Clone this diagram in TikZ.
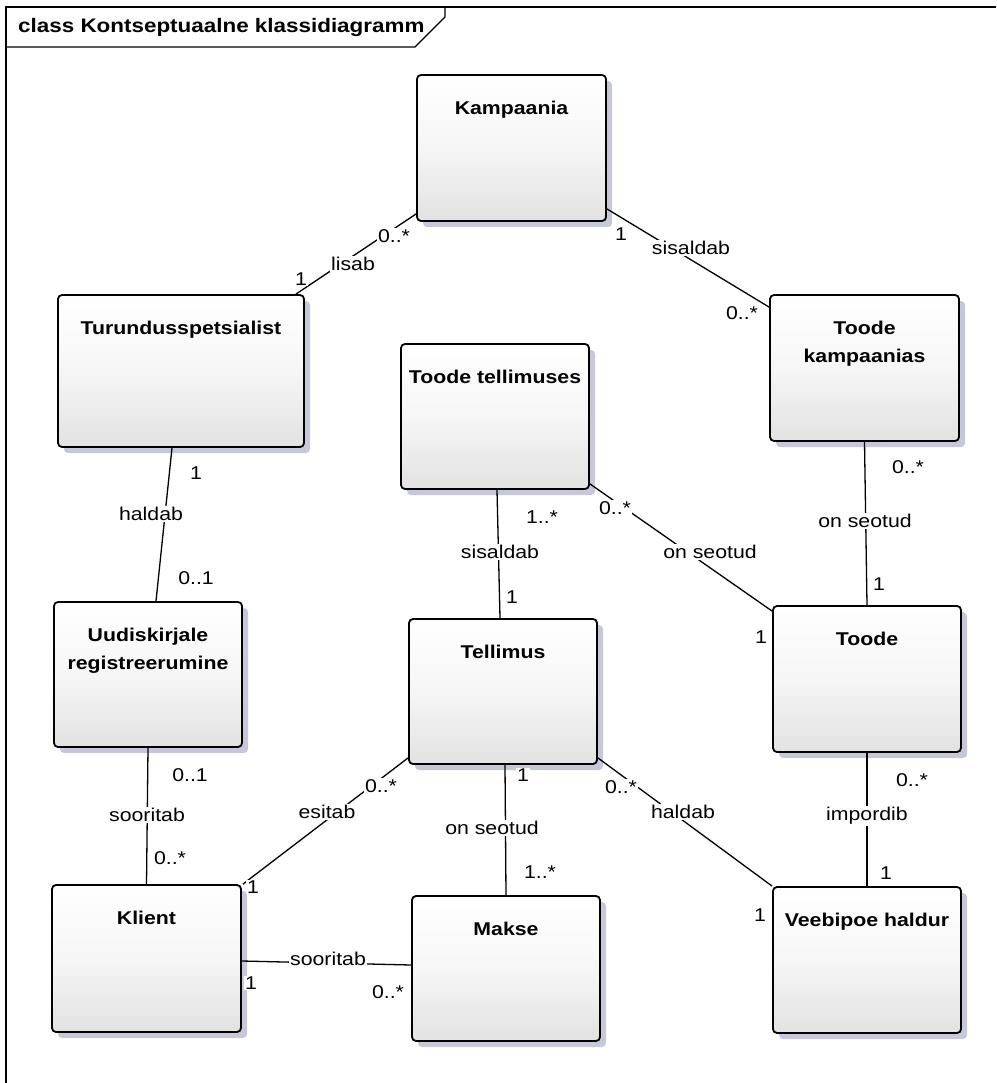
\documentclass[tikz,border=0pt]{standalone}
\usepackage{fontspec}
\setmainfont{Liberation Sans}[FakeStretch=1.15]
\usetikzlibrary{shadows}
\definecolor{shadowcol}{RGB}{196,200,218}
\definecolor{boxbottom}{RGB}{226,226,226}
\definecolor{boxmid}{RGB}{246,246,246}

\tikzset{
  classbox/.style={draw=black, line width=1.8pt, rounded corners=4pt,
    top color=white, bottom color=boxbottom, middle color=boxmid,
    drop shadow={shadow xshift=6pt, shadow yshift=-6pt, fill=shadowcol, opacity=1},
    inner sep=0pt},
  classname/.style={anchor=north, inner sep=0pt, align=center,
    font=\fontsize{18.5}{28}\selectfont\bfseries},
  assoc/.style={draw=black, line width=1.3pt},
  lbl/.style={fill=white, inner sep=1pt, font=\fontsize{18.5}{22}\selectfont},
  frameline/.style={draw=black, line width=1.2pt}
}

% one class: node name, centre x, centre y, width, height, title
\newcommand{\umlclass}[6]{%
  \node[classbox, minimum width=#4pt, minimum height=#5pt] (#1) at (#2,#3) {};
  \node[classname] (#1-name) at ([yshift=-27pt]#1.north) {#6};
}

\begin{document}
\begin{tikzpicture}[x=1pt,y=-1pt]
\useasboundingbox (0,0) rectangle (996,1083);
\fill[white] (0,0) rectangle (996,1083);

% diagram frame with its name tab
\draw[frameline] (6,1083) -- (6,7) -- (996,7);
\draw[frameline] (6,47) -- (415,47) -- (445,17) -- (445,7);
\node[anchor=west, inner sep=0pt, font=\fontsize{19.5}{22}\selectfont\bfseries]
  (frametitle) at (18,28) {class Kontseptuaalne klassidiagramm};

% classes
\umlclass{kamp}{511.5}{148}{189}{146}{Kampaania}
\umlclass{turu}{181}{371}{246}{152}{Turundusspetsialist}
\umlclass{ttel}{495}{416.5}{188}{145}{Toode tellimuses}
\umlclass{tkam}{864.5}{368}{189}{146}{Toode\\kampaanias}
\umlclass{uudi}{148}{674.5}{188}{145}{Uudiskirjale\\registreerumine}
\umlclass{tell}{503}{691.5}{188}{145}{Tellimus}
\umlclass{toode}{867}{679}{188}{146}{Toode}
\umlclass{klient}{146.5}{958.5}{189}{147}{Klient}
\umlclass{makse}{506}{968.5}{188}{145}{Makse}
\umlclass{veeb}{867}{960}{188}{146}{Veebipoe haldur}

% associations
\draw[assoc] ([yshift=8pt]kamp.south west) -- ([xshift=-9pt]turu.north east);
\draw[assoc] ([yshift=13pt]kamp.south east) -- ([yshift=-13pt]tkam.north west);
\draw[assoc] ([xshift=-9pt]turu.south) -- ([xshift=8pt]uudi.north);
\draw[assoc] (uudi.south) -- (klient.north);
\draw[assoc] ([xshift=2pt]ttel.south) -- ([xshift=-3pt]tell.north);
\draw[assoc] ([yshift=6pt]ttel.south east) -- ([yshift=-6pt]toode.north west);
\draw[assoc] (tkam.south) -- (toode.north);
\draw[assoc] (toode.south) -- (veeb.north);
\draw[assoc] ([yshift=7pt]tell.south west) -- ([xshift=1pt]klient.north east);
\draw[assoc] ([xshift=2pt]tell.south) -- (makse.north);
\draw[assoc] ([yshift=7pt]tell.south east) -- (veeb.north west);
\draw[assoc] ([yshift=-2.5pt]klient.east) -- ([yshift=3.5pt]makse.west);

% association names and multiplicities
\node[lbl] (m1a) at (394,236) {0..*};
\node[lbl] (n1)  at (353,264) {lisab};
\node[lbl] (m1b) at (301,279) {1};

\node[lbl] (m2a) at (621,234) {1};
\node[lbl] (n2)  at (691,248) {sisaldab};
\node[lbl] (m2b) at (742,313) {0..*};

\node[lbl] (m3a) at (196,473) {1};
\node[lbl] (n3)  at (151,514) {haldab};
\node[lbl] (m3b) at (196,578) {0..1};

\node[lbl] (m4a) at (190,775) {0..1};
\node[lbl] (n4)  at (147,815) {sooritab};
\node[lbl] (m4b) at (170,858) {0..*};

\node[lbl] (m5a) at (542,517) {1..*};
\node[lbl] (n5)  at (500,552) {sisaldab};
\node[lbl] (m5b) at (512,597) {1};

\node[lbl] (m6a) at (615,508) {0..*};
\node[lbl] (n6)  at (710,552) {on seotud};
\node[lbl] (m6b) at (761,637) {1};

\node[lbl] (m7a) at (908,467) {0..*};
\node[lbl] (n7)  at (865,521) {on seotud};
\node[lbl] (m7b) at (879,584) {1};

\node[lbl] (m8a) at (912,780) {0..*};
\node[lbl] (n8)  at (867,816) {impordib};
\node[lbl] (m8b) at (886,873) {1};

\node[lbl] (m9a) at (381,786) {0..*};
\node[lbl] (n9)  at (327,812) {esitab};
\node[lbl] (m9b) at (253,887) {1};

\node[lbl] (m10a) at (523,775) {1};
\node[lbl] (n10)  at (492,828) {on seotud};
\node[lbl] (m10b) at (540,872) {1..*};

\node[lbl] (m11a) at (621,787) {0..*};
\node[lbl] (n11)  at (683,812) {haldab};
\node[lbl] (m11b) at (760,915) {1};

\node[lbl] (n12)  at (328,959) {sooritab};
\node[lbl] (m12a) at (251,983) {1};
\node[lbl] (m12b) at (388,992) {0..*};
\end{tikzpicture}
\end{document}
